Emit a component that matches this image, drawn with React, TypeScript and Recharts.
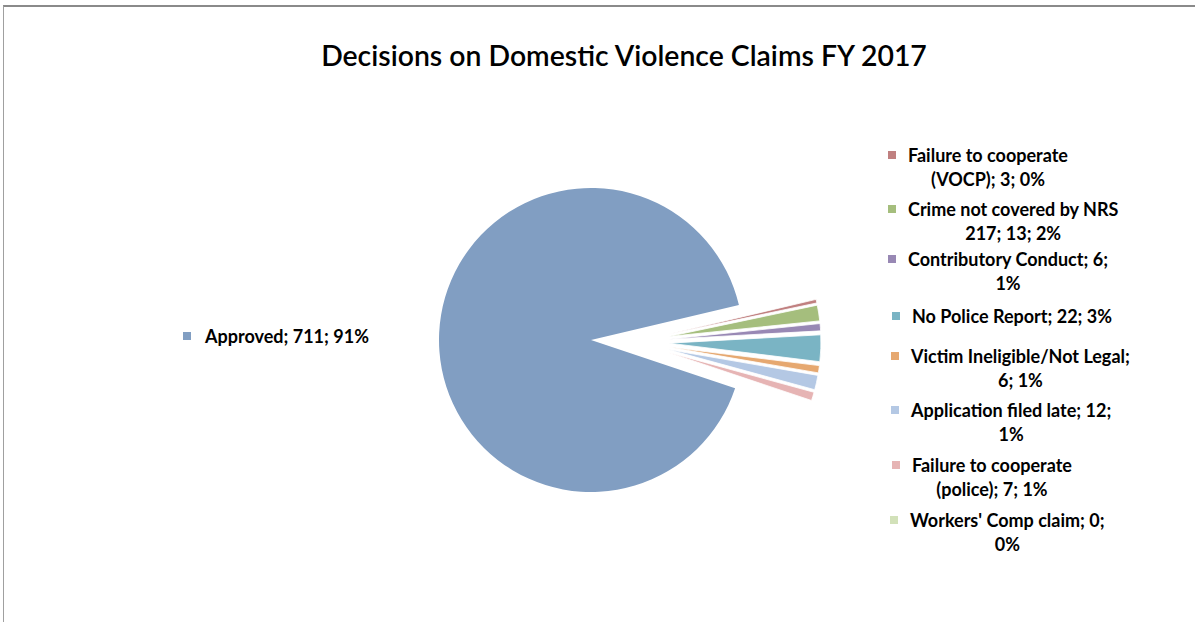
import React from "react";
import { PieChart, Pie, Cell } from "recharts";

const categories = [
  "Failure to cooperate (VOCP)",
  "Crime not covered by NRS 217",
  "Contributory Conduct",
  "No Police Report",
  "Victim Ineligible/Not Legal",
  "Application filed late",
  "Failure to cooperate (police)",
  "Workers' Comp claim",
  "Approved",
];
const counts = [3, 13, 6, 22, 6, 12, 7, 0, 711];
const percentLabels = ["0%", "2%", "1%", "3%", "1%", "1%", "1%", "0%", "91%"];
const colors = [
  "#C08080",
  "#A5BE7D",
  "#9888B4",
  "#7AB4C4",
  "#E6A870",
  "#B4C8E4",
  "#E6B4B4",
  "#D2E1B9",
  "#819EC2",
];
// label text lines (as wrapped in the chart)
const labelLines = [
  ["Failure to cooperate", "(VOCP); 3; 0%"],
  ["Crime not covered by NRS", "217; 13; 2%"],
  ["Contributory Conduct; 6;", "1%"],
  ["No Police Report; 22; 3%"],
  ["Victim Ineligible/Not Legal;", "6; 1%"],
  ["Application filed late; 12;", "1%"],
  ["Failure to cooperate", "(police); 7; 1%"],
  ["Workers' Comp claim; 0;", "0%"],
];

const data = categories.map((name, i) => ({ name, value: counts[i], pct: percentLabels[i] }));

const W = 1195;
const H = 622;
const CX = 591;
const CY = 340;
const R = 152;
const GROUP_SHIFT = 43;
const EXPLODE = 35;
const START = 13.3;
const FONT = "Lato, 'Open Sans', sans-serif";

// label layout (style only)
const labelLeft = [888, 888, 888, 892, 891, 891, 892, 890];
const labelTop = [155, 209, 259, 316, 356, 410, 465, 520];
const LINE_H = 24;
const LABEL_FS = 18;

export default function App() {
  const total = counts.reduce((a, b) => a + b, 0);
  const n = counts.length;
  let cum = 0;
  const mids = counts.map((v) => {
    const a0 = START - (cum / total) * 360;
    cum += v;
    const a1 = START - (cum / total) * 360;
    return (a0 + a1) / 2;
  });
  const smallSum = counts.slice(0, n - 1).reduce((a, b) => a + b, 0);
  const groupMid = START - ((smallSum / total) * 360) / 2;
  const gRad = (groupMid * Math.PI) / 180;
  return (
    <div
      style={{
        position: "absolute",
        left: 0,
        top: 0,
        width: W,
        height: H,
        background: "#fff",
        fontFamily: FONT,
        overflow: "hidden",
      }}
    >
      <div
        style={{
          position: "absolute",
          left: 3,
          top: 5,
          width: W,
          height: H,
          borderTop: "2px solid #8a8a8a",
          borderLeft: "1px solid #a0a0a0",
          boxSizing: "border-box",
        }}
      />
      <div
        style={{
          position: "absolute",
          left: 0,
          width: 1248,
          top: 36,
          textAlign: "center",
          fontSize: 28.4,
          fontWeight: 600,
          color: "#000",
          lineHeight: "38px",
        }}
      >
        Decisions on Domestic Violence Claims FY 2017
      </div>
      <div style={{ position: "absolute", left: 0, top: 0 }}>
        <PieChart width={W} height={H} margin={{ top: 0, right: 0, bottom: 0, left: 0 }}>
          {Array.from({ length: n }).map((_, k) => {
            const isMain = k === n - 1;
            const rad = (mids[k] * Math.PI) / 180;
            const dx = isMain ? 0 : GROUP_SHIFT * Math.cos(gRad) + EXPLODE * Math.cos(rad);
            const dy = isMain ? 0 : -GROUP_SHIFT * Math.sin(gRad) - EXPLODE * Math.sin(rad);
            return (
              <Pie
                key={k}
                data={data}
                dataKey="value"
                nameKey="name"
                cx={CX + dx}
                cy={CY + dy}
                outerRadius={R}
                innerRadius={0}
                startAngle={START}
                endAngle={START - 360}
                isAnimationActive={false}
                label={false}
                labelLine={false}
                stroke="none"
              >
                {data.map((d, i) => (
                  <Cell
                    key={i}
                    fill={i === k ? colors[i] : "transparent"}
                    stroke={i === k && !isMain ? "#fff" : "none"}
                    strokeWidth={i === k ? 0.8 : 0}
                  />
                ))}
              </Pie>
            );
          })}
        </PieChart>
      </div>
      {/* Approved label */}
      <div
        style={{
          position: "absolute",
          left: 183,
          top: 336 - LINE_H / 2,
          display: "flex",
          alignItems: "flex-start",
          fontSize: LABEL_FS,
          fontWeight: 700,
          lineHeight: `${LINE_H}px`,
          color: "#000",
          whiteSpace: "nowrap",
        }}
      >
        <div
          style={{
            width: 8,
            height: 8,
            background: colors[n - 1],
            marginTop: (LINE_H - 8) / 2,
            marginRight: 14,
          }}
        />
        <div>{`${categories[n - 1]}; ${counts[n - 1]}; ${percentLabels[n - 1]}`}</div>
      </div>
      {labelLines.map((lines, i) => (
        <div
          key={i}
          style={{
            position: "absolute",
            left: labelLeft[i],
            top: labelTop[i] - LINE_H / 2,
            display: "flex",
            alignItems: "flex-start",
            fontSize: LABEL_FS,
            fontWeight: 700,
            lineHeight: `${LINE_H}px`,
            color: "#000",
            whiteSpace: "nowrap",
          }}
        >
          <div
            style={{
              width: 8,
              height: 8,
              background: colors[i],
              marginTop: (LINE_H - 8) / 2,
              marginRight: 12,
              flexShrink: 0,
            }}
          />
          <div style={{ display: "inline-block", textAlign: "center" }}>
            {lines.map((l, j) => (
              <div key={j}>{l}</div>
            ))}
          </div>
        </div>
      ))}
    </div>
  );
}
